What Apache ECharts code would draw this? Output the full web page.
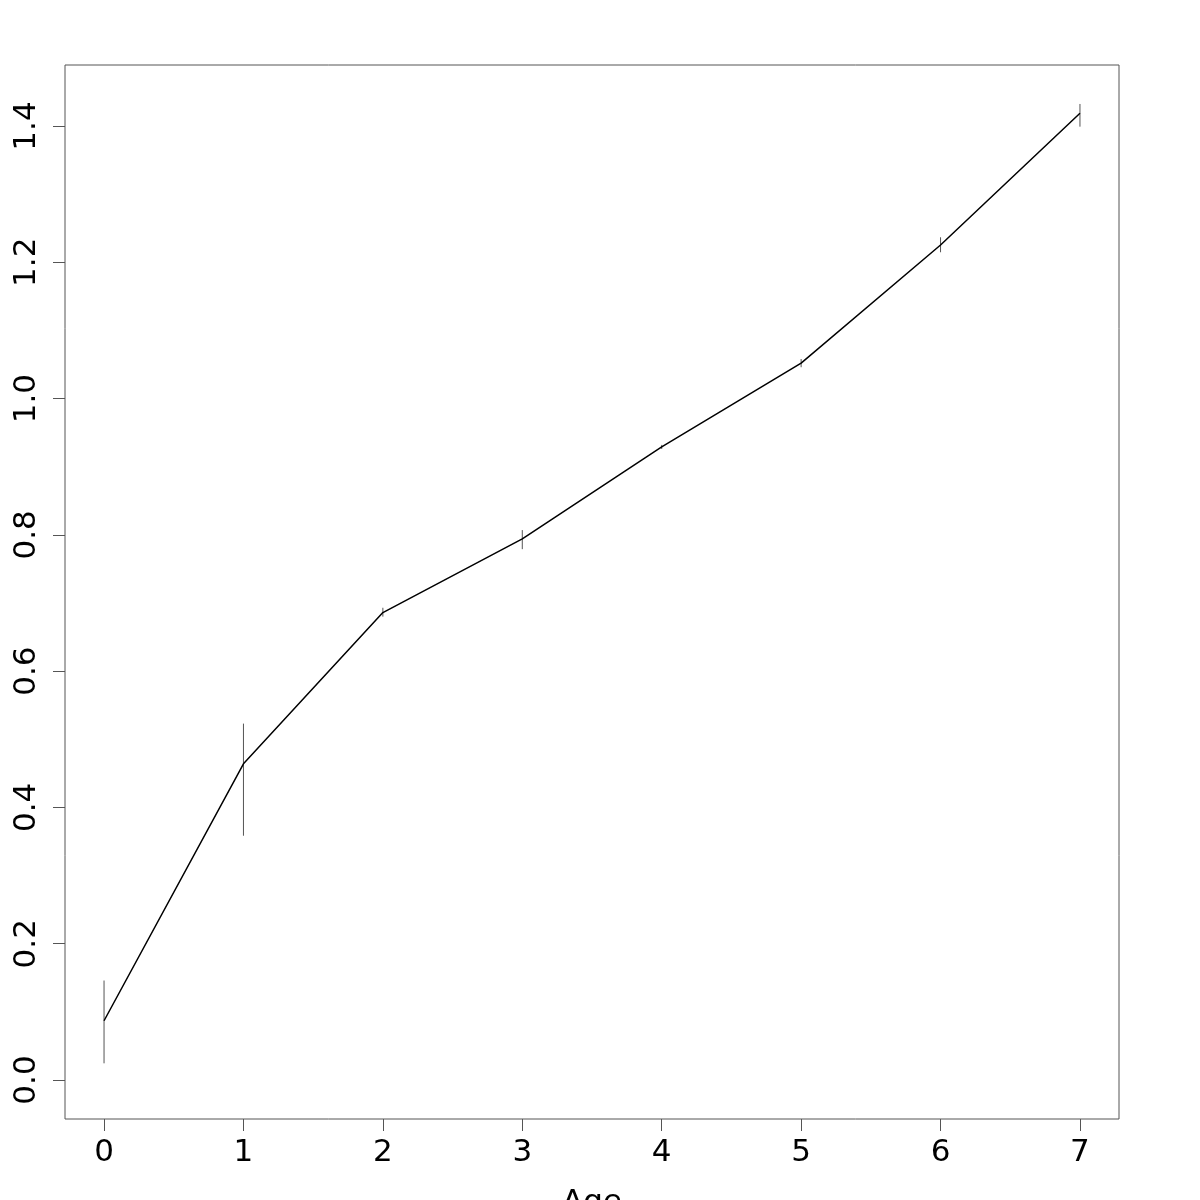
<!DOCTYPE html>
<html><head><meta charset="utf-8">
<script src="https://cdn.jsdelivr.net/npm/echarts@6/dist/echarts.min.js"></script>
<style>html,body{margin:0;padding:0;background:#fff}#c{width:1200px;height:1200px}</style>
</head><body><div id="c"></div>
<script>
const ages = [0, 1, 2, 3, 4, 5, 6, 7];
const meanValues = [0.087, 0.464, 0.686, 0.794, 0.929, 1.052, 1.2254, 1.4187];
const lowerValues = [0.0245, 0.3585, 0.680, 0.779, 0.926, 1.046, 1.2147, 1.399];
const upperValues = [0.146, 0.523, 0.693, 0.807, 0.932, 1.058, 1.2367, 1.4323];
const xTicks = [0, 1, 2, 3, 4, 5, 6, 7];
const yTicks = [0, 0.2, 0.4, 0.6, 0.8, 1.0, 1.2, 1.4];

const font = 'DejaVu Sans';
const chart = echarts.init(document.getElementById('c'), null, {renderer: 'canvas'});
chart.setOption({
  animation: false,
  backgroundColor: '#fff',
  grid: {left: 65, top: 65, width: 1054, height: 1054, containLabel: false, outerBoundsMode: 'none',
         show: true, borderColor: '#555', borderWidth: 1, backgroundColor: 'transparent'},
  xAxis: {
    type: 'value', min: -0.28, max: 7.28,
    name: 'Age', nameLocation: 'middle', nameGap: 68,
    nameTextStyle: {fontFamily: font, fontSize: 31, color: '#000'},
    axisLine: {show: false, onZero: false},
    splitLine: {show: false},
    axisTick: {show: true, inside: false, length: 12, customValues: xTicks, lineStyle: {color: '#555', width: 1}},
    axisLabel: {customValues: xTicks, margin: 18, fontFamily: font, fontSize: 31, color: '#000', formatter: v => String(v)}
  },
  yAxis: {
    type: 'value', min: -0.0572, max: 1.4895,
    axisLine: {show: false, onZero: false},
    splitLine: {show: false},
    axisTick: {show: true, inside: false, length: 12, customValues: yTicks, lineStyle: {color: '#555', width: 1}},
    axisLabel: {customValues: yTicks, margin: 23, rotate: 90, fontFamily: font, fontSize: 31, color: '#000', formatter: v => v.toFixed(1)}
  },
  series: [
    {
      type: 'custom',
      data: ages.map((a, i) => [a, lowerValues[i], upperValues[i]]),
      renderItem: function (params, api) {
        const p1 = api.coord([api.value(0), api.value(1)]);
        const p2 = api.coord([api.value(0), api.value(2)]);
        return {type: 'line', shape: {x1: p1[0], y1: p1[1], x2: p2[0], y2: p2[1]}, style: {stroke: '#555', lineWidth: 1}};
      },
      z: 2
    },
    {
      type: 'line',
      data: ages.map((a, i) => [a, meanValues[i]]),
      showSymbol: false, symbol: 'none',
      lineStyle: {color: '#000', width: 1.5},
      z: 3
    }
  ]
});
</script></body></html>
